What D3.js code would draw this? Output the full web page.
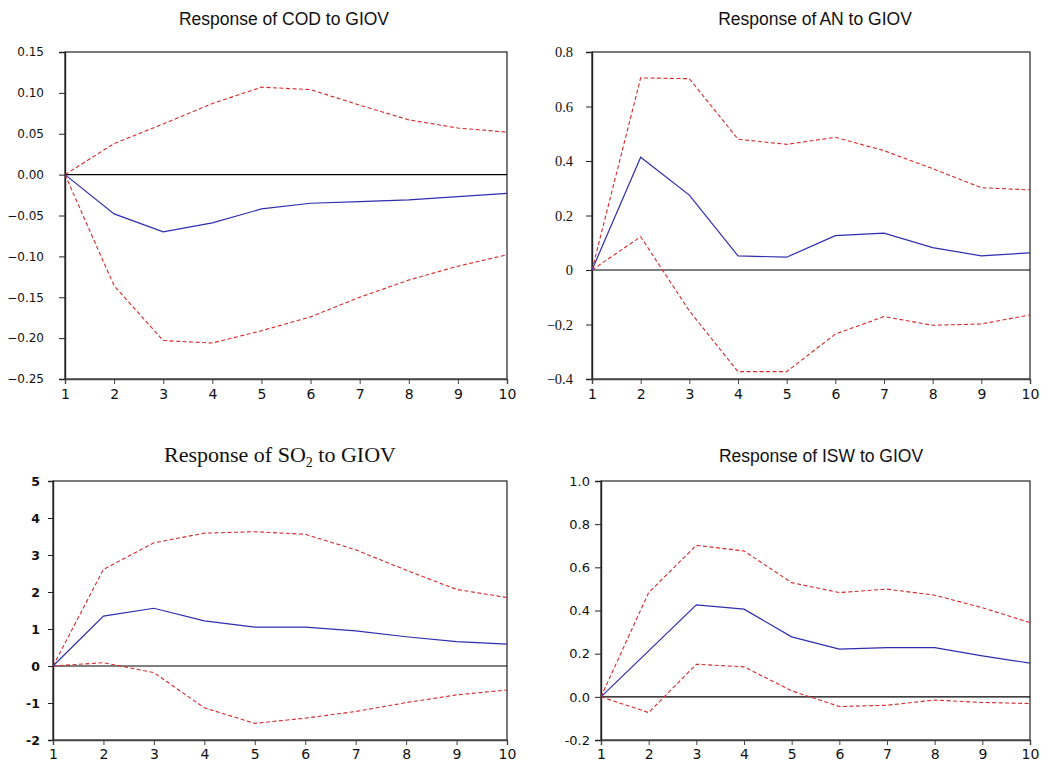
<!DOCTYPE html>
<html>
<head>
<meta charset="utf-8">
<script src="https://cdn.jsdelivr.net/npm/d3@7"></script>
<style>
  html, body { margin: 0; padding: 0; background: #fff; }
  svg { display: block; }
</style>
</head>
<body>
<svg id="chart" width="1047" height="762"></svg>
<script>
// Forecast horizon (periods)
const periods = [1, 2, 3, 4, 5, 6, 7, 8, 9, 10];

// Response of COD to GIOV
const codResponse = [0, -0.048, -0.070, -0.059, -0.042, -0.035, -0.033, -0.031, -0.027, -0.023];
const codUpper    = [0, 0.038, 0.062, 0.087, 0.107, 0.104, 0.085, 0.067, 0.057, 0.052];
const codLower    = [0, -0.136, -0.203, -0.206, -0.191, -0.174, -0.150, -0.129, -0.112, -0.098];
const codTicks    = [0.15, 0.10, 0.05, 0.00, -0.05, -0.10, -0.15, -0.20, -0.25];

// Response of AN to GIOV
const anResponse = [0, 0.414, 0.275, 0.052, 0.047, 0.126, 0.135, 0.082, 0.052, 0.063];
const anUpper    = [0, 0.705, 0.702, 0.480, 0.461, 0.487, 0.438, 0.372, 0.302, 0.294];
const anLower    = [0, 0.122, -0.150, -0.373, -0.373, -0.235, -0.171, -0.203, -0.198, -0.165];
const anTicks    = [0.8, 0.6, 0.4, 0.2, 0, -0.2, -0.4];

// Response of SO2 to GIOV
const so2Response = [0, 1.35, 1.56, 1.22, 1.05, 1.05, 0.95, 0.79, 0.66, 0.59];
const so2Upper    = [0, 2.61, 3.33, 3.59, 3.63, 3.56, 3.14, 2.59, 2.07, 1.85];
const so2Lower    = [0, 0.09, -0.18, -1.13, -1.55, -1.41, -1.23, -0.99, -0.78, -0.65];
const so2Ticks    = [5, 4, 3, 2, 1, 0, -1, -2];

// Response of ISW to GIOV
const iswResponse = [0, 0.213, 0.426, 0.406, 0.278, 0.221, 0.228, 0.228, 0.190, 0.156];
const iswUpper    = [0, 0.483, 0.702, 0.676, 0.529, 0.483, 0.499, 0.471, 0.413, 0.344];
const iswLower    = [0, -0.073, 0.151, 0.139, 0.028, -0.045, -0.039, -0.015, -0.026, -0.031];
const iswTicks    = [1.0, 0.8, 0.6, 0.4, 0.2, 0.0, -0.2];

const svg = d3.select("#chart");

const SANS = "'Liberation Sans', Arial, sans-serif";
const WIDE = "'DejaVu Sans', Verdana, sans-serif";
const SERIF = "'Liberation Serif', 'Times New Roman', serif";

const panels = [
  {
    title: ["Response of COD to GIOV"], titleFont: SANS, titleSize: 17.5, titleX: 284, titleY: 25,
    box: { left: 65, right: 507, top: 52, bottom: 379 },
    domain: [-0.25, 0.15], ticks: codTicks, fmt: d3.format(".2f"),
    yFont: WIDE, ySize: 12, yWeight: "normal", yTick: 6, yPad: 15,
    xFont: WIDE, xSize: 14, xLabelY: 399,
    response: codResponse, upper: codUpper, lower: codLower
  },
  {
    title: ["Response of", "AN to GIOV"], titleFont: SANS, titleSize: 17.5, titleX: 815, titleY: 25, tight: true,
    box: { left: 592, right: 1030, top: 52, bottom: 379 },
    domain: [-0.4, 0.8], ticks: anTicks, fmt: d => d === 0 ? "0" : d3.format(".1f")(d),
    yFont: SERIF, ySize: 14.5, yWeight: "normal", yTick: 6, yPad: 13,
    xFont: WIDE, xSize: 14, xLabelY: 399,
    response: anResponse, upper: anUpper, lower: anLower
  },
  {
    title: null, titleX: 280, titleY: 462,
    box: { left: 53, right: 507, top: 481, bottom: 740 },
    domain: [-2, 5], ticks: so2Ticks, fmt: d => d3.format("d")(d).replace("−", "-"),
    yFont: WIDE, ySize: 12.5, yWeight: "bold", yTick: 5, yPad: 8,
    xFont: WIDE, xSize: 14, xLabelY: 759,
    response: so2Response, upper: so2Upper, lower: so2Lower
  },
  {
    title: ["Response of ISW to GIOV"], titleFont: SANS, titleSize: 17.5, titleX: 821, titleY: 462,
    box: { left: 601, right: 1030, top: 481, bottom: 740 },
    domain: [-0.2, 1.0], ticks: iswTicks, fmt: d => d3.format(".1f")(d).replace("−", "-"),
    yFont: WIDE, ySize: 13, yWeight: "normal", yTick: 6, yPad: 5,
    xFont: WIDE, xSize: 14, xLabelY: 759,
    response: iswResponse, upper: iswUpper, lower: iswLower
  }
];

function drawPanel(p) {
  const g = svg.append("g");
  const x = d3.scaleLinear().domain([1, 10]).range([p.box.left, p.box.right]);
  const y = d3.scaleLinear().domain(p.domain).range([p.box.bottom, p.box.top]);

  // Title
  if (p.title) {
    const t = g.append("text")
      .attr("x", p.titleX).attr("y", p.titleY)
      .attr("text-anchor", "middle")
      .style("font-family", p.titleFont)
      .style("font-size", p.titleSize + "px")
      .attr("fill", "#111");
    if (p.tight) {
      t.append("tspan").text(p.title[0]);
      t.append("tspan").attr("dx", 3).text(p.title[1]);
    } else {
      t.text(p.title[0]);
    }
  } else {
    // SO2 title with subscript, serif face
    const t = g.append("text")
      .attr("x", p.titleX).attr("y", p.titleY)
      .attr("text-anchor", "middle")
      .style("font-family", SERIF)
      .style("font-size", "22px")
      .attr("fill", "#111");
    t.append("tspan").text("Response of SO");
    t.append("tspan").style("font-size", "14px").attr("dy", 5).text("2");
    t.append("tspan").attr("dy", -5).text(" to GIOV");
  }

  // Plot frame
  g.append("rect")
    .attr("x", p.box.left).attr("y", p.box.top)
    .attr("width", p.box.right - p.box.left)
    .attr("height", p.box.bottom - p.box.top)
    .attr("fill", "none")
    .attr("stroke", "#222")
    .attr("stroke-width", 1.2);

  // Zero reference line
  g.append("line")
    .attr("x1", p.box.left).attr("x2", p.box.right)
    .attr("y1", y(0)).attr("y2", y(0))
    .attr("stroke", "#000").attr("stroke-width", 1.1);

  // Y axis
  const yAxis = d3.axisLeft(y).tickValues(p.ticks).tickFormat(p.fmt).tickSize(p.yTick).tickPadding(p.yPad);
  const ya = g.append("g").attr("transform", `translate(${p.box.left},0)`).call(yAxis);
  ya.attr("font-family", null).attr("font-size", null);
  ya.select(".domain").attr("stroke", "#222").attr("stroke-width", 1.4);
  ya.selectAll(".tick line").attr("stroke", "#222");
  ya.selectAll("text")
    .style("font-family", p.yFont).style("font-size", p.ySize + "px")
    .style("font-weight", p.yWeight).attr("fill", "#111");

  // X axis
  const xAxis = d3.axisBottom(x).tickValues(periods).tickFormat(d3.format("d")).tickSize(5).tickPadding(3);
  const xa = g.append("g").attr("transform", `translate(0,${p.box.bottom})`).call(xAxis);
  xa.attr("font-family", null).attr("font-size", null);
  xa.select(".domain").attr("stroke", "#444").attr("stroke-width", 1.4);
  xa.selectAll(".tick line").attr("stroke", "#444");
  xa.selectAll("text")
    .style("font-family", p.xFont).style("font-size", p.xSize + "px").attr("fill", "#111")
    .attr("dy", null).attr("y", p.xLabelY - p.box.bottom);

  const line = d3.line().x((d, i) => x(periods[i])).y(d => y(d));

  // Confidence bands (dashed red)
  [p.upper, p.lower].forEach(band => {
    g.append("path")
      .datum(band)
      .attr("d", line)
      .attr("fill", "none")
      .attr("stroke", "#d42a2a")
      .attr("stroke-width", 1.1)
      .attr("stroke-dasharray", "4,2.5");
  });

  // Impulse response (solid blue)
  g.append("path")
    .datum(p.response)
    .attr("d", line)
    .attr("fill", "none")
    .attr("stroke", "#2e2eb0")
    .attr("stroke-width", 1.2);
}

panels.forEach(drawPanel);
</script>
</body>
</html>
